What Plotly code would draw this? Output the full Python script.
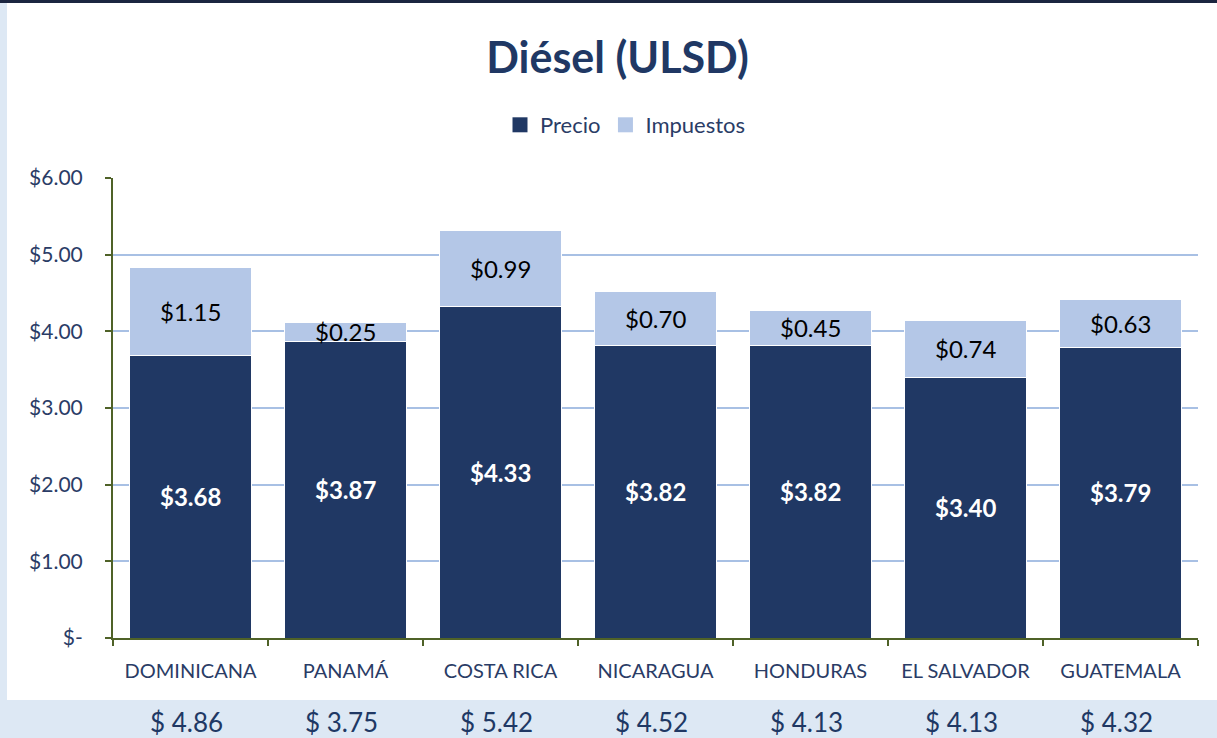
import plotly.graph_objects as go

categorias = ["DOMINICANA", "PANAMÁ", "COSTA RICA", "NICARAGUA", "HONDURAS", "EL SALVADOR", "GUATEMALA"]
precio = [3.68, 3.87, 4.33, 3.82, 3.82, 3.40, 3.79]
impuestos = [1.15, 0.25, 0.99, 0.70, 0.45, 0.74, 0.63]
totales = ["$ 4.86", "$ 3.75", "$ 5.42", "$ 4.52", "$ 4.13", "$ 4.13", "$ 4.32"]
y_ticks = [0, 1, 2, 3, 4, 5, 6]
y_ticktext = ["$-", "$1.00", "$2.00", "$3.00", "$4.00", "$5.00", "$6.00"]

FONT = "Lato, 'Open Sans', sans-serif"
NAVY = "#203864"
LIGHT = "#b4c7e7"
TXT = "#2a3c66"
GREEN = "#4f6228"
BAND = "#dde8f4"

W, H = 1217, 738
L, R, T, B = 113, 19, 178, 100
pw, ph = W - L - R, H - T - B

def px(x):
    return (x - L) / pw

def py(y):
    return (H - B - y) / ph

fig = go.Figure()
fig.add_trace(go.Bar(
    name="Precio", x=categorias, y=precio, showlegend=False,
    marker=dict(color=NAVY, line=dict(color="white", width=1)),
))
fig.add_trace(go.Bar(
    name="Impuestos", x=categorias, y=impuestos, showlegend=False,
    marker=dict(color=LIGHT, line=dict(color="white", width=1)),
))
# legend entries with larger square swatches
for name, col in (("Precio", NAVY), ("Impuestos", LIGHT)):
    fig.add_trace(go.Scatter(name=name, x=[None], y=[None], mode="markers",
                             marker=dict(symbol="square", size=15, color=col)))

annotations = []
for c, p, i, t in zip(categorias, precio, impuestos, totales):
    annotations.append(dict(x=c, y=p / 2, xref="x", yref="y", text=f"<b>${p:.2f}</b>",
                            showarrow=False, font=dict(family=FONT, size=24, color="white")))
    annotations.append(dict(x=c, y=p + i / 2, xref="x", yref="y", text=f"${i:.2f}",
                            showarrow=False, font=dict(family=FONT, size=24, color="black")))
    annotations.append(dict(x=c, y=py(704), xref="x", yref="paper", text=t, xshift=-4,
                            yanchor="top", showarrow=False,
                            font=dict(family=FONT, size=26, color=NAVY)))

shapes = [
    dict(type="rect", xref="paper", yref="paper", x0=px(7), x1=px(W + 5), y0=py(700), y1=py(3),
         fillcolor="white", line=dict(width=0), layer="below"),
    dict(type="rect", xref="paper", yref="paper", x0=px(-5), x1=px(W + 5), y0=py(3), y1=py(-5),
         fillcolor="#1b2640", line=dict(width=0), layer="below"),
]

fig.update_layout(
    width=W, height=H,
    margin=dict(l=L, r=R, t=T, b=B),
    paper_bgcolor=BAND, plot_bgcolor="white",
    barmode="stack", bargap=0.21,
    title=dict(text="<b>Diésel (ULSD)</b>", x=617.5 / W, xanchor="center", y=1 - 58 / H, yanchor="middle",
               font=dict(family=FONT, size=43, color=NAVY)),
    legend=dict(orientation="h", x=px(500), xanchor="left", y=py(125), yanchor="middle",
                font=dict(family=FONT, size=22, color=TXT), itemwidth=30, bgcolor="rgba(0,0,0,0)",
                traceorder="normal"),
    font=dict(family=FONT, color=TXT),
    annotations=annotations,
    shapes=shapes,
    xaxis=dict(showline=True, linecolor=GREEN, linewidth=2, ticks="outside", tickson="boundaries",
               ticklen=6, tickcolor=GREEN, tickwidth=2, showgrid=False,
               tickfont=dict(family=FONT, size=20, color=TXT), ticklabelstandoff=14),
    yaxis=dict(range=[0, 6], tickvals=y_ticks, ticktext=y_ticktext, showline=True, linecolor=GREEN,
               linewidth=2, ticks="outside", ticklen=6, tickcolor=GREEN, tickwidth=2,
               showgrid=True, gridcolor="#a8c0e4", gridwidth=2, zeroline=False,
               tickfont=dict(family=FONT, size=21, color=TXT), ticklabelstandoff=18),
)

fig.write_html("out.html", config={"displayModeBar": False},
               post_script="document.body.style.margin='0';document.body.style.overflow='hidden';")
